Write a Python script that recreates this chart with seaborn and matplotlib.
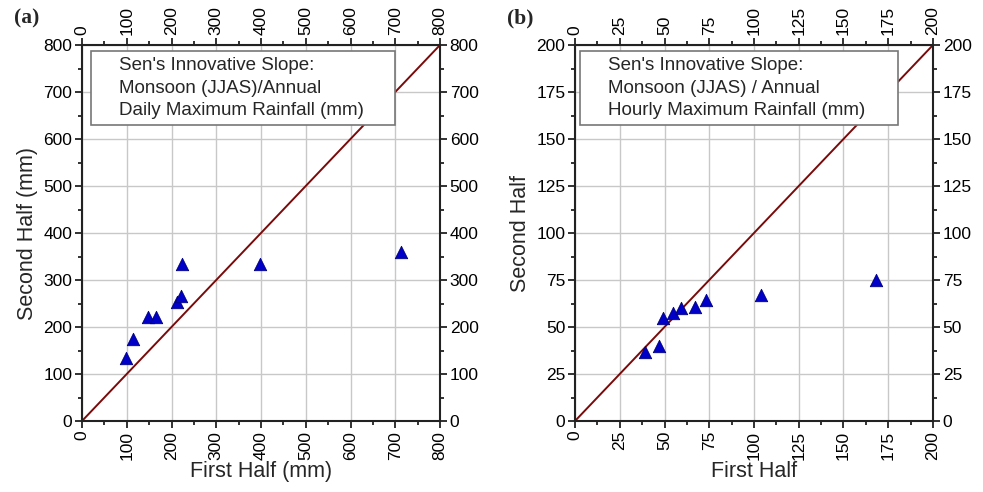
import numpy as np
import pandas as pd
import matplotlib
matplotlib.use("Agg")
import matplotlib.pyplot as plt
from matplotlib.patches import Rectangle
from matplotlib.ticker import MultipleLocator
import seaborn as sns

# Data
daily_first = [98, 115, 148, 166, 212, 221, 223, 398, 713]
daily_second = [135, 175, 221, 222, 254, 266, 333, 335, 360]
hourly_first = [39, 47, 49, 55, 59, 67, 73, 104, 168]
hourly_second = [36.5, 40, 55, 57.5, 60, 60.5, 64.5, 67, 75]

daily_title = ["Sen's Innovative Slope:", "Monsoon (JJAS)/Annual", "Daily Maximum Rainfall (mm)"]
hourly_title = ["Sen's Innovative Slope:", "Monsoon (JJAS) / Annual", "Hourly Maximum Rainfall (mm)"]

sns.set_style("ticks")
plt.rcParams['font.family'] = ['Liberation Sans', 'DejaVu Sans']


def draw_panel(ax, first, second, limit, step, xlabel, ylabel, lines, tag, box, text_x):
    df = pd.DataFrame({'first': first, 'second': second})
    # 1:1 line
    ax.plot([0, limit], [0, limit], color='#7a0a0a', lw=1.4, zorder=2)
    sns.scatterplot(data=df, x='first', y='second', marker='^', s=80,
                    color='#0000c8', edgecolor='#000080', linewidth=0.6,
                    ax=ax, zorder=3)
    ax.set_xlim(0, limit)
    ax.set_ylim(0, limit)
    ax.xaxis.set_major_locator(MultipleLocator(step))
    ax.yaxis.set_major_locator(MultipleLocator(step))
    ax.xaxis.set_minor_locator(MultipleLocator(step / 2))
    ax.yaxis.set_minor_locator(MultipleLocator(step / 2))
    ax.grid(True, which='major', color='#c8c8c8', lw=1)
    ax.set_axisbelow(True)
    ax.tick_params(which='both', direction='out', top=True, right=True,
                   labeltop=True, labelright=True, width=1.3, colors='#222222',
                   labelcolor='black', labelsize=12.5, pad=2)
    ax.tick_params(which='major', length=5)
    ax.tick_params(which='minor', length=3)
    ax.tick_params(axis='x', labelrotation=90)
    for sp in ax.spines.values():
        sp.set_linewidth(1.5)
        sp.set_color('#222222')
    ax.set_xlabel(xlabel, fontsize=15.5, labelpad=1)
    ax.set_ylabel(ylabel, fontsize=15.5, labelpad=4)
    x0, y0, x1, y1 = box
    ax.add_patch(Rectangle((x0, y0), x1 - x0, y1 - y0, transform=ax.transAxes,
                           fc='white', ec='#777777', lw=1.2, zorder=5))
    ax.text(text_x, (y0 + y1) / 2, "\n".join(lines), transform=ax.transAxes,
            ha='left', va='center', fontsize=13.5, linespacing=1.45, zorder=6)
    ax.text(-0.19, 1.07, tag, transform=ax.transAxes, fontsize=15.5,
            fontweight='bold', family='Liberation Serif', ha='left', va='center')


fig = plt.figure(figsize=(9.83, 4.92), dpi=100)
ax1 = fig.add_axes([82 / 983, 71 / 492, 358 / 983, 376 / 492])
ax2 = fig.add_axes([575 / 983, 71 / 492, 358 / 983, 376 / 492])

draw_panel(ax1, daily_first, daily_second, 800, 100,
           'First Half (mm)', 'Second Half (mm)', daily_title, '(a)',
           (0.025, 0.787, 0.874, 0.984), 0.103)
draw_panel(ax2, hourly_first, hourly_second, 200, 25,
           'First Half', 'Second Half', hourly_title, '(b)',
           (0.014, 0.787, 0.902, 0.984), 0.092)

fig.savefig('out.png', dpi=100)
